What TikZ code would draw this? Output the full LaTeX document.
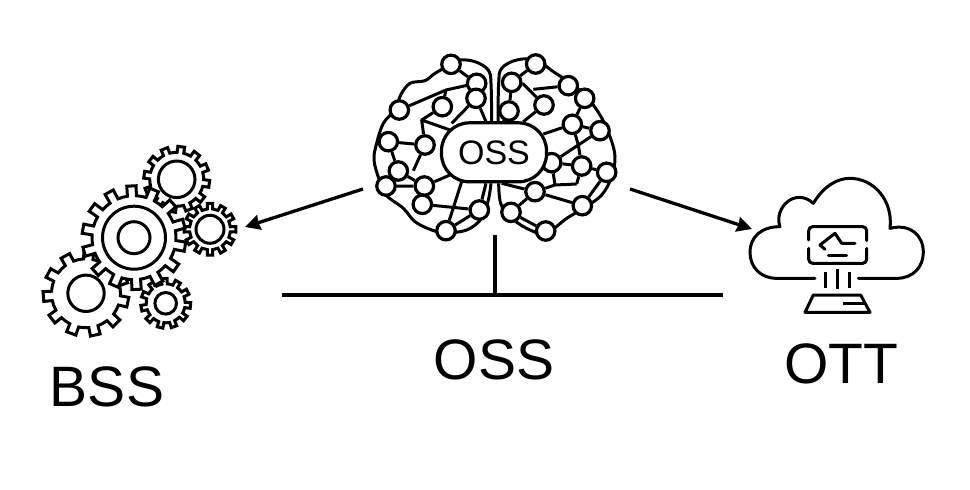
\documentclass[tikz,border=0pt]{standalone}
\usepackage{fontspec}
\setmainfont{Liberation Sans}
\usetikzlibrary{arrows.meta,backgrounds}
\tikzset{
  brainnode/.style={circle,draw=black,fill=white,line width=3.2pt,minimum size=18.5pt,inner sep=0pt},
  pillnode/.style={rounded corners=28pt,draw=black,fill=white,line width=3.2pt,minimum width=105pt,minimum height=59pt,inner sep=0pt,font=\fontsize{34}{34}\selectfont},
  brainline/.style={line width=3pt,line join=round},
  gearline/.style={draw=black,fill=white,line width=3pt,line join=miter},
  gearring/.style={draw=black,line width=3pt},
  iconline/.style={line width=3pt,line join=round},
  linkarrow/.style={line width=3.3pt,-{Stealth[length=15pt,width=15pt,inset=1pt]}},
  linkline/.style={line width=3.3pt},
  biglabel/.style={font=\fontsize{57}{57}\selectfont,inner sep=0pt}
}
% \gearshape{cx}{cy}{root r}{tip r}{teeth}{rotation}
\newcommand{\gearshape}[6]{%
  \pgfmathsetmacro{\gstep}{360/#5}%
  \pgfmathsetmacro{\gw}{\gstep/4.2}%
  \pgfmathsetmacro{\gt}{\gstep/5}%
  \pgfmathtruncatemacro{\glast}{#5-1}%
  \draw[gearline,shift={(#1,#2)}] ({#6-\gw}:#3)
    \foreach \gi in {0,...,\glast}{
      -- ({#6+\gi*\gstep-\gt}:#4) -- ({#6+\gi*\gstep+\gt}:#4) -- ({#6+\gi*\gstep+\gw}:#3)
      arc[start angle={#6+\gi*\gstep+\gw},end angle={#6+\gi*\gstep+\gstep-\gw},radius=#3]
    } -- cycle;
}
\begin{document}
\begin{tikzpicture}[x=1pt,y=-1pt]
\useasboundingbox (0,0) rectangle (970,490);

% ---------- brain
\begin{scope}[shift={(360,40)},x=0.33333pt,y=-0.33333pt]
  \node[pillnode] (pill) at (402,337) {OSS};
  \foreach \n/\px/\py in {a/273/73,b/350/130,c/348/175,d/247/200,e/118/210,f/85/305,g/195/315,
     h/115/393,i/78/438,j/193/438,k/187/493,l/358/510,m/258/572,
     n/527/72,o/455/127,p/447/213,q/552/195,r/625/137,s/674/175,t/637/253,u/720/272,
     w/665/378,x/740/397,y/525/455,z/667/497,aa/453/517,bb/557/573}
    {\node[brainnode] (\n) at (\px,\py) {};}
  \begin{scope}[on background layer]
    \node[brainnode] (v) at (575,368) {};
    \draw[brainline] plot[smooth,tension=.6] coordinates {(395,245)(393,130)(385,90)(345,65)(300,60)(273,73)(225,100)(195,122)(150,130)(122,165)(105,210)(70,250)(50,310)(42,360)(58,420)(78,465)(130,505)(165,545)(215,570)(258,578)(320,570)(365,535)(385,480)(393,430)};
    \draw[brainline] plot[smooth,tension=.6] coordinates {(414,245)(416,130)(425,85)(470,60)(527,60)(580,95)(625,125)(675,165)(720,225)(750,290)(765,350)(755,410)(725,465)(670,505)(620,535)(557,580)(500,565)(450,530)(422,490)(416,430)};
    \coordinate (la) at (258,150); \coordinate (lb) at (335,133);
    \coordinate (lc) at (185,240); \coordinate (ld) at (270,270);
    \coordinate (le) at (275,250); \coordinate (lf) at (378,245);
    \coordinate (lg) at (160,392); \coordinate (lh) at (270,405);
    \coordinate (li) at (305,425); \coordinate (lj) at (378,430);
    \coordinate (ra) at (490,132); \coordinate (rb) at (530,172);
    \coordinate (rc) at (490,245); \coordinate (rd) at (520,148);
    \coordinate (re) at (430,245); \coordinate (rf) at (550,282);
    \coordinate (rg) at (655,315); \coordinate (rh) at (650,432);
    \coordinate (ri) at (585,435); \coordinate (rj) at (425,430);
    \draw[brainline] (a)--(b) (b)--(c) (e)--(la)--(lb) (la)--(d) (d)--(lc)--(g) (lc)--(ld)
      (c)--(le) (c)--(lf) (f)--(g) (f)--(h) (g)--(lg) (h)--(j) (h)--(i) (i)--(j) (j)--(lh)
      (j)--(k) (k)--(l) (m)--(li) (m)--(l) (l)--(lj);
    \draw[brainline] (n)--(o) (o)--(ra)--(rb)--(q) (o)--(p) (p)--(re) (q)--(rc) (rd)--(r) (r)--(s)
      (t)--(rf) (t)--(u) (t)--(s) (t)--(rg) (u)--(rg) (v)--(rg) (rg)--(w) (v)--(w) (w)--(x)
      (w)--(rh) (ri)--(rh) (v)--(ri) (y)--(ri) (y)--(z) (z)--(x) (aa)--(bb) (aa)--(y) (y)--(rj);
  \end{scope}
\end{scope}

% ---------- gears
\gearshape{86}{293.3}{34.5}{43}{11}{12}
\draw[gearring] (86,293.3) circle[radius=18.2];
\gearshape{165.7}{303.3}{19.5}{25}{11}{5}
\draw[gearring] (165.7,303.3) circle[radius=10.8];
\gearshape{176.7}{179.3}{27}{33}{12}{8}
\draw[gearring] (176.7,179.3) circle[radius=18.3];
\gearshape{210}{229.3}{20.5}{26}{12}{0}
\draw[gearring] (210,229.3) circle[radius=14];
\gearshape{134}{237.7}{42}{52}{14}{10}
\draw[gearring] (134,237.7) circle[radius=31.5];
\draw[gearring] (134,237.7) circle[radius=16];

% ---------- cloud icon
\begin{scope}[shift={(740,170)},x=0.33333pt,y=-0.33333pt]
  \draw[iconline,line cap=round] (225,325) -- (110,325) .. controls (60,325) and (30,290) .. (30,247)
    .. controls (30,200) and (65,170) .. (120,170)
    .. controls (100,115) and (165,50) .. (220,100)
    .. controls (250,50) and (290,25) .. (330,25)
    .. controls (400,25) and (460,90) .. (450,175)
    .. controls (510,160) and (550,195) .. (550,247)
    .. controls (550,290) and (520,325) .. (470,325) -- (355,325);
  \draw[iconline,line cap=round,rounded corners=4pt] (206,210) -- (206,170) -- (380,170) -- (380,212);
  \draw[iconline,line cap=round,rounded corners=4pt] (206,235) -- (206,280) -- (380,280) -- (380,235);
  \draw[iconline,line cap=round] (345,220) -- (305,220) -- (285,190) -- (240,225) -- (255,238);
  \draw[iconline,line cap=round] (265,255) -- (320,255);
  \draw[iconline] (257,305) -- (257,353) (292,298) -- (292,356) (328,305) -- (328,353);
  \draw[iconline] (220,375) -- (362,375) -- (390,427) -- (195,427) -- cycle;
  \draw[iconline] (310,400) -- (375,400);
\end{scope}

% ---------- connectors
\coordinate (arrowLs) at (363,189);
\coordinate (arrowLe) at (245,227);
\coordinate (arrowRs) at (630,189);
\coordinate (arrowRe) at (752,229);
\coordinate (stemtop) at (495,235);
\coordinate (stembot) at (495,295);
\coordinate (barL) at (282,295);
\coordinate (barR) at (723,295);
\draw[linkarrow] (arrowLs) -- (arrowLe);
\draw[linkarrow] (arrowRs) -- (arrowRe);
\draw[linkline] (stemtop) -- (stembot);
\draw[linkline] (barL) -- (barR);

% ---------- labels
\node[biglabel] (lblbss) at (107,387) {BSS};
\node[biglabel] (lbloss) at (494,360) {OSS};
\node[biglabel] (lblott) at (841,364) {OTT};
\end{tikzpicture}
\end{document}
